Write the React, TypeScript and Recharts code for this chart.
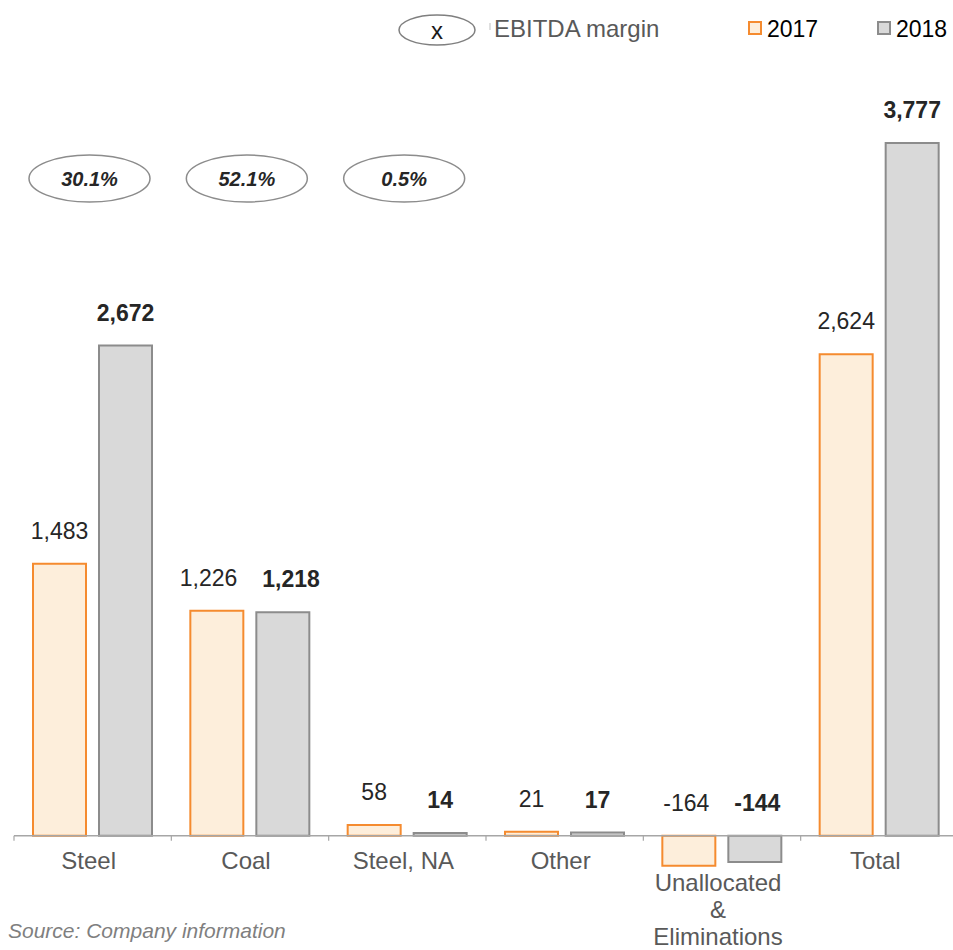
import React from "react";
import {
  BarChart,
  Bar,
  XAxis,
  YAxis,
  ReferenceLine,
  LabelList,
} from "recharts";

const categories = ["Steel", "Coal", "Steel, NA", "Other", "Unallocated\n&\nEliminations", "Total"];
const values2017 = [1483, 1226, 58, 21, -164, 2624];
const values2018 = [2672, 1218, 14, 17, -144, 3777];
const ebitdaMargins = ["30.1%", "52.1%", "0.5%", null, null, null];

const data = categories.map((name, i) => ({
  name,
  y2017: values2017[i],
  y2018: values2018[i],
  margin: ebitdaMargins[i],
}));

const W = 953;
const H = 950;
const MARGIN = { top: 102, right: -5, bottom: 11, left: 14 };
const X_AXIS_H = 30;
const Y_MIN = -400;
const Y_MAX = 4000;
const PLOT_H = H - MARGIN.top - MARGIN.bottom - X_AXIS_H;
const PX_PER_UNIT = PLOT_H / (Y_MAX - Y_MIN);
const BASE_Y = MARGIN.top + Y_MAX * PX_PER_UNIT;
const BAR_GAP = 13;
const BAR_PITCH = 66;
const LABEL_SIZE = 23;

const FONT = "'Liberation Sans', Arial, sans-serif";
const ORANGE = "#F58B2F";
const PEACH = "#FDEEDB";
const GREY = "#8C8C8C";
const LIGHT_GREY = "#D9D9D9";

const fmt = (v: number) => v.toLocaleString("en-US");

// push the two value labels of a category apart when they sit at about the same height
const labelDx = (i: number, first: boolean) => {
  const a = values2017[i];
  const b = values2018[i];
  if (Math.abs(Math.max(a, 0) - Math.max(b, 0)) * PX_PER_UNIT > 30) return 0;
  const wa = fmt(a).length * 0.5 * LABEL_SIZE;
  const wb = fmt(b).length * 0.5 * LABEL_SIZE;
  const need = (wa + wb) / 2 + 25 - BAR_PITCH;
  if (need <= 0) return 0;
  return first ? -need / 2 : need / 2;
};

const CategoryTick = (props: any) => {
  const { x, payload } = props;
  const idx = payload?.index ?? props.index ?? 0;
  const half = payload?.offset ?? (W - MARGIN.left - MARGIN.right) / categories.length / 2;
  const lines = String(payload.value).split("\n");
  const hasNegative = Math.min(values2017[idx], values2018[idx]) < 0;
  const firstBaseline = BASE_Y + (hasNegative ? 55.5 : 33.5);
  return (
    <g>
      <line x1={x - half} x2={x - half} y1={BASE_Y} y2={BASE_Y + 5} stroke="#a6a6a6" strokeWidth={1.2} />
      {idx === categories.length - 1 && (
        <line x1={x + half} x2={x + half} y1={BASE_Y} y2={BASE_Y + 5} stroke="#a6a6a6" strokeWidth={1.2} />
      )}
      {lines.map((ln, i) => (
        <text
          key={i}
          x={x - 4}
          y={firstBaseline + i * 27}
          textAnchor="middle"
          fontFamily={FONT}
          fontSize={24}
          fill="#595959"
        >
          {ln}
        </text>
      ))}
    </g>
  );
};

const valueLabel = (bold: boolean) => (props: any) => {
  const { x, y, width, height, value, index } = props;
  if (value === null || value === undefined) return null;
  const top = Math.min(y, y + height);
  return (
    <text
      x={x + width / 2 + labelDx(index ?? 0, !bold)}
      y={top - 25}
      textAnchor="middle"
      fontFamily={FONT}
      fontSize={LABEL_SIZE}
      fontWeight={bold ? 700 : 400}
      fill="#262626"
    >
      {fmt(Number(value))}
    </text>
  );
};

const MarginBubble = (props: any) => {
  const { x, width, value } = props;
  if (!value) return null;
  const cx = x + width + BAR_GAP / 2 - 3;
  return (
    <g>
      <ellipse cx={cx} cy={178.5} rx={60.5} ry={23.5} fill="#fff" stroke="#8c8c8c" strokeWidth={1.5} />
      <text
        x={cx}
        y={186}
        textAnchor="middle"
        fontFamily={FONT}
        fontSize={20}
        fontWeight={700}
        fontStyle="italic"
        fill="#262626"
      >
        {value}
      </text>
    </g>
  );
};

export default function App() {
  return (
    <div style={{ position: "absolute", left: 0, top: 0, width: W, height: H, background: "#fff", overflow: "hidden" }}>
      <BarChart
        width={W}
        height={H}
        data={data}
        margin={MARGIN}
        barCategoryGap={19}
        barGap={BAR_GAP}
      >
        <YAxis hide domain={[Y_MIN, Y_MAX]} />
        <XAxis
          dataKey="name"
          height={X_AXIS_H}
          axisLine={false}
          tickLine={false}
          interval={0}
          tick={<CategoryTick />}
        />
        <ReferenceLine y={0} stroke="#a6a6a6" strokeWidth={1.5} ifOverflow="visible" />
        <Bar dataKey="y2017" fill={PEACH} stroke={ORANGE} strokeWidth={2} isAnimationActive={false}>
          <LabelList dataKey="y2017" content={valueLabel(false)} />
          <LabelList dataKey="margin" content={<MarginBubble />} />
        </Bar>
        <Bar dataKey="y2018" fill={LIGHT_GREY} stroke={GREY} strokeWidth={2} isAnimationActive={false}>
          <LabelList dataKey="y2018" content={valueLabel(true)} />
        </Bar>
      </BarChart>

      <svg
        width={W}
        height={H}
        style={{ position: "absolute", left: 0, top: 0, pointerEvents: "none" }}
      >
        <ellipse cx={437} cy={30} rx={38} ry={15} fill="none" stroke="#7f7f7f" strokeWidth={1.5} />
        <text x={437} y={39} textAnchor="middle" fontFamily={FONT} fontSize={24} fill="#1a1a1a">
          x
        </text>
        <line x1={490} x2={490} y1={23} y2={30} stroke="#bfbfbf" strokeWidth={1} />
        <text x={494} y={37} fontFamily={FONT} fontSize={24} fill="#595959">
          EBITDA margin
        </text>
        <rect x={749} y={22} width={12} height={12} fill={PEACH} stroke={ORANGE} strokeWidth={2} />
        <text x={767} y={37} fontFamily={FONT} fontSize={23} fill="#000">
          2017
        </text>
        <rect x={878} y={22} width={12} height={12} fill={LIGHT_GREY} stroke={GREY} strokeWidth={2} />
        <text x={896} y={37} fontFamily={FONT} fontSize={23} fill="#000">
          2018
        </text>
        <text x={8} y={938} fontFamily={FONT} fontSize={21} fontStyle="italic" fill="#7f7f7f">
          Source: Company information
        </text>
      </svg>
    </div>
  );
}
